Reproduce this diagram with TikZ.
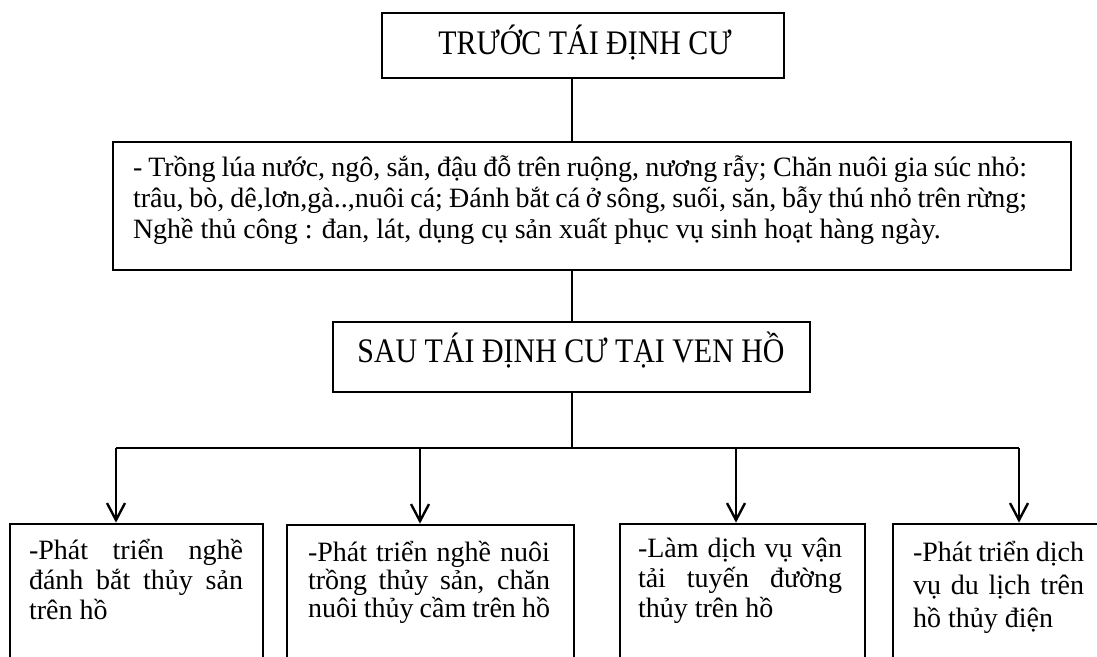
\documentclass[tikz,border=0pt]{standalone}
\usepackage{fontspec}
\setmainfont{Liberation Serif}
\usetikzlibrary{arrows.meta}
\newcommand{\justline}[2]{\makebox[#1][s]{#2}}
\newcommand{\bodytext}[3]{\parbox[t]{#1}{\fontsize{14pt}{#2}\selectfont\lineskiplimit=-20pt\relax #3}}
\newcommand{\titletext}[1]{\scalebox{0.87}[1]{\fontsize{17.2pt}{20pt}\selectfont #1}}
\begin{document}
\begin{tikzpicture}[x=0.5pt,y=-0.5pt,
  box/.style={draw,line width=1.35pt,inner sep=0pt,rectangle},
  link/.style={line width=1.2pt},
  arr/.style={line width=1.2pt,-{Straight Barb[length=8.5pt,width=9pt,line width=1.2pt]}},
  txt/.style={anchor=base west,inner sep=0pt,outer sep=0pt},
  title/.style={anchor=base,inner sep=0pt}]
\useasboundingbox (0,0) rectangle (1097,657);
\clip (0,0) rectangle (1097,657);

% boxes
\node[box,minimum width=201pt,minimum height=32.5pt] (top) at (583,45.5) {};
\node[title] (toptext) at (585,55) {\titletext{TRƯỚC TÁI ĐỊNH CƯ}};

\node[box,minimum width=479pt,minimum height=64pt] (mid) at (592,206) {};
\node[txt] (midtext) at (133,177) {\bodytext{447pt}{15.5pt}{%
\justline{447pt}{- Trồng lúa nước, ngô, sắn, đậu đỗ trên ruộng, nương rẫy; Chăn nuôi gia súc nhỏ:}\\
\justline{447pt}{trâu, bò, dê,lơn,gà..,nuôi cá; Đánh bắt cá ở sông, suối, săn, bẫy thú nhỏ trên rừng;}\\
Nghề thủ công : đan, lát, dụng cụ sản xuất phục vụ sinh hoạt hàng ngày.}};

\node[box,minimum width=238.5pt,minimum height=35pt] (sau) at (571.5,357) {};
\node[title] (sautext) at (571,363) {\titletext{SAU TÁI ĐỊNH CƯ TẠI VEN HỒ}};

\node[box,minimum width=126.5pt,minimum height=88pt] (b1) at (136.5,612) {};
\node[box,minimum width=143.5pt,minimum height=88pt] (b2) at (430.5,613) {};
\node[box,minimum width=122.5pt,minimum height=88pt] (b3) at (742.5,612) {};
\node[box,minimum width=108.5pt,minimum height=88pt] (b4) at (1001.5,612) {};

\node[txt] (t1) at (29,559) {\bodytext{107pt}{15pt}{%
\justline{107pt}{-Phát triển nghề}\\
\justline{107pt}{đánh bắt thủy sản}\\
trên hồ}};
\node[txt] (t2) at (308,561) {\bodytext{121pt}{14pt}{%
\justline{121pt}{-Phát triển nghề nuôi}\\
\justline{121pt}{trồng thủy sản, chăn}\\
nuôi thủy cầm trên hồ}};
\node[txt] (t3) at (638,557) {\bodytext{102pt}{15pt}{%
\justline{102pt}{-Làm dịch vụ vận}\\
\justline{102pt}{tải tuyến đường}\\
thủy trên hồ}};
\node[txt] (t4) at (913,561) {\bodytext{85.5pt}{16.5pt}{%
\justline{85.5pt}{-Phát triển dịch}\\
\justline{85.5pt}{vụ du lịch trên}\\
hồ thủy điện}};

% connectors
\coordinate (spine) at (572,0);
\coordinate (bus) at (572,448);
\coordinate (a1) at (116,448);
\coordinate (a2) at (420,448);
\coordinate (a3) at (736,448);
\coordinate (a4) at (1019,448);
\draw[link] (top.south -| spine) -- (mid.north -| spine);
\draw[link] (mid.south -| spine) -- (sau.north -| spine);
\draw[link] (sau.south -| spine) -- (bus);
\draw[link] (a1) -- (a4);
\draw[arr] (a1) -- (a1 |- b1.north);
\draw[arr] (a2) -- (a2 |- b2.north);
\draw[arr] (a3) -- (a3 |- b3.north);
\draw[arr] (a4) -- (a4 |- b4.north);
\end{tikzpicture}
\end{document}
